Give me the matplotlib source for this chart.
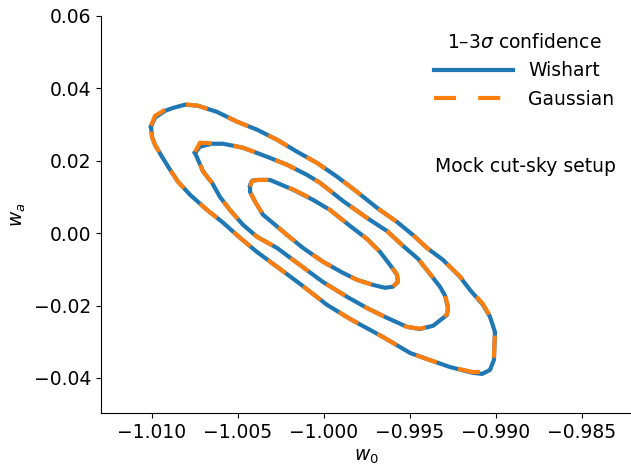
"""
w0-wa confidence contours, Wishart vs Gaussian likelihood (mock cut-sky).
"""
import matplotlib
matplotlib.use("Agg")
import matplotlib.pyplot as plt
from matplotlib.ticker import FuncFormatter

# contour vertices (1, 2, 3 sigma), Wishart
W_IN_W0 = [-1.00430, -1.00419, -1.00384, -1.00314, -1.00180, -1.00064, -0.99965, -0.99849,
           -0.99750, -0.99674, -0.99616, -0.99576, -0.99570, -0.99599, -0.99645, -0.99715,
           -0.99808, -0.99889, -1.00006, -1.00122, -1.00215, -1.00297, -1.00355, -1.00401,
           -1.00430]
W_IN_WA = [0.0131, 0.0145, 0.0147, 0.0147, 0.0120, 0.0092, 0.0064, 0.0020,
           -0.0016, -0.0052, -0.0088, -0.0115, -0.0135, -0.0148, -0.0151, -0.0143,
           -0.0129, -0.0110, -0.0079, -0.0041, -0.0005, 0.0028, 0.0051, 0.0087,
           0.0114]

W_MID_W0 = [-1.00750, -1.00721, -1.00651, -1.00587, -1.00471, -1.00331, -1.00215, -1.00099,
            -1.00023, -0.99890, -0.99750, -0.99634, -0.99541, -0.99453, -0.99384, -0.99326,
            -0.99296, -0.99279, -0.99285, -0.99366, -0.99442, -0.99517, -0.99634, -0.99750,
            -0.99866, -1.00006, -1.00140, -1.00273, -1.00390, -1.00471, -1.00547, -1.00605,
            -1.00651, -1.00703, -1.00733]
W_MID_WA = [0.0222, 0.0239, 0.0247, 0.0247, 0.0236, 0.0211, 0.0189, 0.0161,
            0.0139, 0.0089, 0.0042, 0.0006, -0.0035, -0.0071, -0.0113, -0.0148,
            -0.0173, -0.0207, -0.0226, -0.0256, -0.0265, -0.0259, -0.0234, -0.0207,
            -0.0176, -0.0135, -0.0088, -0.0041, -0.0010, 0.0023, 0.0064, 0.0100,
            0.0139, 0.0170, 0.0203]

W_OUT_W0 = [-1.01006, -1.00983, -1.00924, -1.00878, -1.00808, -1.00733, -1.00622, -1.00506,
            -1.00390, -1.00273, -1.00157, -1.00041, -0.99924, -0.99808, -0.99692, -0.99576,
            -0.99483, -0.99401, -0.99308, -0.99209, -0.99151, -0.99076, -0.99035, -0.99006,
            -0.99012, -0.99035, -0.99081, -0.99134, -0.99267, -0.99401, -0.99500, -0.99657,
            -0.99849, -0.99983, -1.00140, -1.00273, -1.00390, -1.00488, -1.00587, -1.00680,
            -1.00779, -1.00849, -1.00895, -1.00942, -1.00983, -1.01000]
W_OUT_WA = [0.0294, 0.0319, 0.0338, 0.0346, 0.0355, 0.0352, 0.0335, 0.0308,
            0.0286, 0.0258, 0.0225, 0.0194, 0.0156, 0.0114, 0.0070, 0.0031,
            -0.0005, -0.0041, -0.0074, -0.0121, -0.0157, -0.0198, -0.0231, -0.0273,
            -0.0350, -0.0378, -0.0389, -0.0386, -0.0370, -0.0348, -0.0331, -0.0287,
            -0.0237, -0.0198, -0.0140, -0.0093, -0.0052, -0.0013, 0.0029, 0.0064,
            0.0106, 0.0142, 0.0175, 0.0211, 0.0244, 0.0266]

# Gaussian likelihood contours: almost on top of the Wishart ones
G_IN_W0 = list(W_IN_W0)
G_IN_WA = [0.0129, 0.0144, 0.0147, 0.0147, 0.0121, 0.0093, 0.0064, 0.0020,
           -0.0016, -0.0052, -0.0087, -0.0114, -0.0134, -0.0147, -0.0150, -0.0143,
           -0.0129, -0.0110, -0.0079, -0.0041, -0.0005, 0.0028, 0.0051, 0.0087,
           0.0114]

G_MID_W0 = list(W_MID_W0)
G_MID_WA = [0.0225, 0.0250, 0.0248, 0.0247, 0.0236, 0.0211, 0.0189, 0.0161,
            0.0139, 0.0089, 0.0042, 0.0006, -0.0035, -0.0071, -0.0112, -0.0146,
            -0.0171, -0.0205, -0.0224, -0.0255, -0.0264, -0.0259, -0.0234, -0.0207,
            -0.0176, -0.0135, -0.0088, -0.0041, -0.0010, 0.0023, 0.0064, 0.0100,
            0.0139, 0.0170, 0.0203]

G_OUT_W0 = list(W_OUT_W0)
G_OUT_WA = [0.0297, 0.0324, 0.0341, 0.0350, 0.0356, 0.0352, 0.0335, 0.0308,
            0.0286, 0.0258, 0.0225, 0.0194, 0.0156, 0.0114, 0.0070, 0.0031,
            -0.0005, -0.0041, -0.0074, -0.0120, -0.0155, -0.0196, -0.0229, -0.0271,
            -0.0345, -0.0372, -0.0383, -0.0384, -0.0370, -0.0348, -0.0331, -0.0287,
            -0.0237, -0.0198, -0.0140, -0.0093, -0.0052, -0.0013, 0.0029, 0.0064,
            0.0106, 0.0142, 0.0175, 0.0211, 0.0244, 0.0266]

WISHART = [(W_IN_W0, W_IN_WA), (W_MID_W0, W_MID_WA), (W_OUT_W0, W_OUT_WA)]
GAUSSIAN = [(G_IN_W0, G_IN_WA), (G_MID_W0, G_MID_WA), (G_OUT_W0, G_OUT_WA)]

BLUE = "#1f77b4"
ORANGE = "#ff7f0e"
DASH = (0, (5.3, 5.3))

plt.rcParams["font.size"] = 13.5


def closed(xs, ys):
    return list(xs) + [xs[0]], list(ys) + [ys[0]]


def minus_fmt(fmt):
    # proper unicode minus like the default formatter
    return FuncFormatter(lambda v, pos: (fmt % v).replace("-", "\u2212"))


def main():
    fig = plt.figure(figsize=(6.31, 4.66), dpi=100)
    ax = fig.add_axes([0.160, 0.1137, 0.840, 0.852])

    for i, (xs, ys) in enumerate(WISHART):
        x, y = closed(xs, ys)
        ax.plot(x, y, color=BLUE, lw=3, label="Wishart" if i == 0 else None)
    for i, (xs, ys) in enumerate(GAUSSIAN):
        x, y = closed(xs, ys)
        ax.plot(x, y, color=ORANGE, lw=3, ls=DASH, label="Gaussian" if i == 0 else None)

    ax.set_xlim(-1.01297, -0.98215)
    ax.set_ylim(-0.0497, 0.06)
    ax.set_xticks([-1.010, -1.005, -1.000, -0.995, -0.990, -0.985])
    ax.set_yticks([-0.04, -0.02, 0.00, 0.02, 0.04, 0.06])
    ax.xaxis.set_major_formatter(minus_fmt("%.3f"))
    ax.yaxis.set_major_formatter(minus_fmt("%.2f"))
    ax.spines["top"].set_visible(False)
    ax.spines["right"].set_visible(False)
    ax.set_xlabel(r"$w_0$")
    ax.set_ylabel(r"$w_a$")

    ax.legend(title=r"1–3$\sigma$ confidence", frameon=False, loc="upper right",
              handlelength=4.2)
    ax.text(0.972, 0.62, "Mock cut-sky setup", transform=ax.transAxes,
            ha="right", va="center")

    fig.savefig("out.png", dpi=100)


if __name__ == "__main__":
    main()
